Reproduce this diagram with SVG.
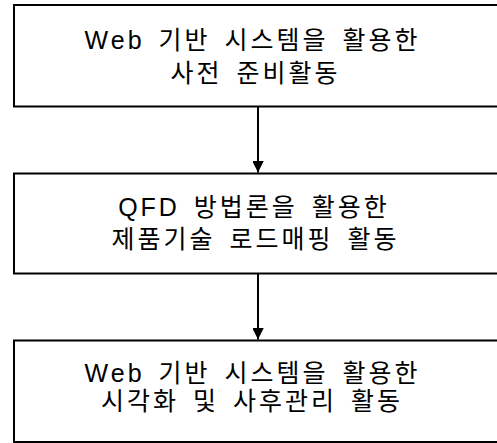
<svg xmlns="http://www.w3.org/2000/svg" width="497" height="443" viewBox="0 0 497 443">
<style>
.box{fill:#fff;stroke:#000;stroke-width:2}
.t{font-family:"Liberation Sans","Noto Sans CJK KR",sans-serif;font-size:25px;fill:#000;text-anchor:middle;letter-spacing:3px;word-spacing:4px}
.c{stroke:#000;stroke-width:2;fill:none}
</style>
<defs>
<marker id="ah" markerUnits="userSpaceOnUse" markerWidth="12" markerHeight="11" refX="12" refY="6" orient="auto">
<path d="M0,0 L12,6 L0,12 Z" fill="#000"/>
</marker>
</defs>
<rect width="497" height="443" fill="#fff"/>
<g id="node1">
<rect class="box" x="14" y="5" width="500" height="101.5"/>
<text class="t" x="252.5" y="49">Web 기반 시스템을 활용한</text>
<text class="t" x="255.5" y="82">사전 준비활동</text>
</g>
<g id="node2">
<rect class="box" x="14" y="173.5" width="500" height="100"/>
<text class="t" x="254" y="216">QFD 방법론을 활용한</text>
<text class="t" x="255.5" y="248">제품기술 로드매핑 활동</text>
</g>
<g id="node3">
<rect class="box" x="14" y="340.5" width="500" height="101.5"/>
<text class="t" x="252.5" y="382">Web 기반 시스템을 활용한</text>
<text class="t" x="252" y="410">시각화 및 사후관리 활동</text>
</g>
<g id="connectors">
<line class="c" x1="258" y1="106.5" x2="258" y2="172.5" marker-end="url(#ah)"/>
<line class="c" x1="258" y1="273.5" x2="258" y2="339.5" marker-end="url(#ah)"/>
</g>
</svg>
